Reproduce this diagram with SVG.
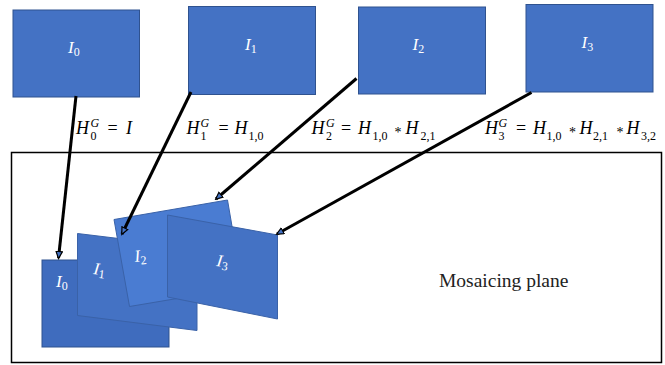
<svg xmlns="http://www.w3.org/2000/svg" width="665" height="365" viewBox="0 0 665 365">
<style>
.top{fill:#4472C4;stroke:#2F528F;stroke-width:1}
.lbl{font-family:"Liberation Serif",serif;fill:#ffffff}
.it{font-style:italic}
.m{font-family:"Liberation Serif",serif;fill:#000000;font-size:18px}
.s{font-size:12px}
.ast{font-size:14px}
.con{stroke:#000;stroke-width:3;fill:none;marker-end:url(#ah)}
</style>
<defs>
<marker id="ah" markerUnits="userSpaceOnUse" markerWidth="9" markerHeight="9" refX="7" refY="4" orient="auto">
<path d="M0.5,0.8 L7.5,4 L0.5,7.2 z" fill="#4472C4" stroke="#000" stroke-width="1.2"/>
</marker>
</defs>
<rect width="665" height="365" fill="#ffffff"/>
<g id="plane">
<rect x="11.5" y="152.5" width="650" height="210" fill="#ffffff" stroke="#000" stroke-width="1.5"/>
<text x="439" y="287" font-family="Liberation Serif,serif" font-size="19.5" fill="#222">Mosaicing plane</text>
</g>
<g id="m0">
<rect x="42" y="260" width="127" height="87" fill="#3F6CBE" stroke="#2F528F" stroke-width="1"/>
<text class="lbl" x="56" y="287" font-size="17"><tspan class="it">I</tspan><tspan font-size="12" dy="3">0</tspan></text>
</g>
<g id="m1">
<polygon points="77.5,233.5 197,248 197,330.5 77.5,315.5" fill="#4472C4" stroke="#3A62A8" stroke-width="1"/>
<text class="lbl" font-size="17" transform="translate(93,274) rotate(7)"><tspan class="it">I</tspan><tspan font-size="12" dy="3">1</tspan></text>
</g>
<g id="m2">
<polygon points="114,219.5 227.5,200 242.5,287.5 129.5,306.5" fill="#4A7CD2" stroke="#3A62A8" stroke-width="1"/>
<text class="lbl" font-size="17" transform="translate(135,262) rotate(-6)"><tspan class="it">I</tspan><tspan font-size="12" dy="3">2</tspan></text>
</g>
<g id="m3">
<polygon points="167.5,215 277.5,235 277.5,319 167.5,297" fill="#4472C4" stroke="#3A62A8" stroke-width="1"/>
<text class="lbl" font-size="17" transform="translate(216,266) rotate(8)"><tspan class="it">I</tspan><tspan font-size="12" dy="3">3</tspan></text>
</g>
<g id="n0">
<rect class="top" x="13" y="10" width="126.5" height="87"/>
<text class="lbl" x="68" y="52.5" font-size="17"><tspan class="it">I</tspan><tspan font-size="12" dy="3">0</tspan></text>
</g>
<g id="n1">
<rect class="top" x="188.5" y="6.5" width="127" height="88"/>
<text class="lbl" x="245" y="50" font-size="17"><tspan class="it">I</tspan><tspan font-size="12" dy="3">1</tspan></text>
</g>
<g id="n2">
<rect class="top" x="358.5" y="7" width="127" height="87"/>
<text class="lbl" x="412.5" y="50" font-size="17"><tspan class="it">I</tspan><tspan font-size="12" dy="3">2</tspan></text>
</g>
<g id="n3">
<rect class="top" x="526" y="4.5" width="127" height="87.5"/>
<text class="lbl" x="581.5" y="47.5" font-size="17"><tspan class="it">I</tspan><tspan font-size="12" dy="3">3</tspan></text>
</g>
<g id="connectors">
<line class="con" x1="76" y1="96" x2="58.5" y2="258"/>
<line class="con" x1="191" y1="92" x2="122" y2="234"/>
<line class="con" x1="356.5" y1="78.5" x2="216" y2="199"/>
<line class="con" x1="531.5" y1="92.5" x2="277" y2="234"/>
</g>
<g id="formulas">
<text class="m"><tspan class="it" x="76" y="134">H</tspan><tspan class="s it" x="90.5" y="127">G</tspan><tspan class="s" x="90.5" y="139.5">0</tspan><tspan x="107.5" y="134">=</tspan><tspan class="it" x="126" y="134">I</tspan></text>
<text class="m"><tspan class="it" x="186.5" y="134">H</tspan><tspan class="s it" x="200.5" y="127">G</tspan><tspan class="s" x="200.5" y="139.5">1</tspan><tspan x="218.5" y="134">=</tspan><tspan class="it" x="234.5" y="134">H</tspan><tspan class="s" x="248.5" y="139.5">1,0</tspan></text>
<text class="m"><tspan class="it" x="311.5" y="134">H</tspan><tspan class="s it" x="326" y="127">G</tspan><tspan class="s" x="326" y="139.5">2</tspan><tspan x="341" y="134">=</tspan><tspan class="it" x="358" y="134">H</tspan><tspan class="s" x="372.5" y="139.5">1,0</tspan><tspan class="ast" x="394.5" y="137">*</tspan><tspan class="it" x="405.5" y="134">H</tspan><tspan class="s" x="420.5" y="139.5">2,1</tspan></text>
<text class="m"><tspan class="it" x="485" y="134">H</tspan><tspan class="s it" x="498.5" y="127">G</tspan><tspan class="s" x="498.5" y="139.5">3</tspan><tspan x="516" y="134">=</tspan><tspan class="it" x="533" y="134">H</tspan><tspan class="s" x="546.5" y="139.5">1,0</tspan><tspan class="ast" x="569" y="137">*</tspan><tspan class="it" x="579.5" y="134">H</tspan><tspan class="s" x="593" y="139.5">2,1</tspan><tspan class="ast" x="616.5" y="137">*</tspan><tspan class="it" x="626.5" y="134">H</tspan><tspan class="s" x="641" y="139.5">3,2</tspan></text>
</g>
</svg>
